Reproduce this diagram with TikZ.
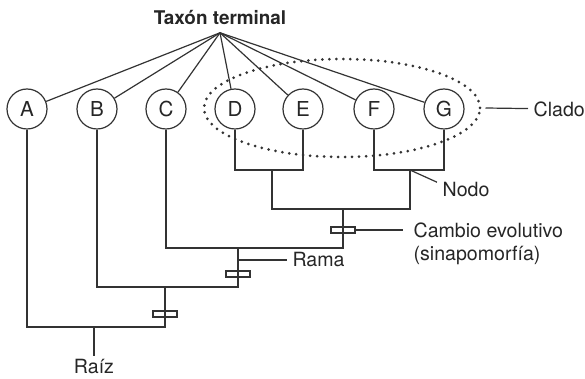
\documentclass[tikz,border=0pt]{standalone}
\usepackage{fontspec}
\setmainfont{TeX Gyre Heros}
\usetikzlibrary{shapes.geometric}
\tikzset{
  taxon/.style={circle, draw, minimum size=20pt, inner sep=0pt},
  etiqueta/.style={inner sep=2.5pt, align=left},
  marca/.style={draw, minimum width=12pt, minimum height=3pt, inner sep=0pt},
  punteado/.style={ellipse, draw, line width=1.5pt, line cap=round,
    dash pattern=on 0pt off 3.5pt, minimum width=138pt, minimum height=49pt}
}
\begin{document}
\begin{tikzpicture}[x=0.5pt,y=-0.5pt, line width=0.6pt, draw=black!80,
    font=\fontsize{9.8}{11.6}\selectfont, text=black!85]
    \useasboundingbox (0,0) rectangle (585,379);
    % terminales
    \foreach \n/\x in {A/27,B/97,C/166,D/235,E/303,F/374,G/444}
      \node[taxon, font=\fontsize{10.3}{12}\selectfont] (\n) at (\x,109) {\n};
    \node[punteado] (elipse) at (342,108) {};
    \node[anchor=base, inner sep=3.5pt] (taxon) at (220,25)
      {\fontsize{9.45}{11}\selectfont\bfseries Taxón terminal};
    \foreach \n in {A,B,C,D,E,F,G}
      \draw (taxon.south) -- (\n);
    % nodos internos
    \coordinate (nDE) at (272,170);
    \coordinate (nFG) at (410,170);
    \coordinate (nDG) at (343,209);
    \coordinate (nCG) at (238,248);
    \coordinate (nBG) at (165,287);
    \coordinate (nAG) at (94,327);
    \draw (D) |- (nDE) -| (E);
    \draw (F) |- (nFG) -| (G);
    \draw (nDE) |- (nDG) -| (nFG);
    \draw (C) |- (nCG) -| (nDG);
    \draw (B) |- (nBG) -| (nCG);
    \draw (A) |- (nAG) -| (nBG);
    \node[anchor=north, inner sep=1.5pt] (raiz) at (94,356) {Raíz};
    \draw (nAG) -- (raiz);
    % cambios evolutivos
    \node[marca] (m1) at (343,230) {};
    \node[marca] (m2) at (238,274) {};
    \node[marca] (m3) at (165,314) {};
    % etiquetas
    \node[etiqueta, inner xsep=5pt, anchor=north west] (cambio) at (403,217)
      {Cambio evolutivo\\(sinapomorfía)};
    \draw (m1.east) -- (m1 -| cambio.west);
    \coordinate (pRama) at (238,260);
    \node[etiqueta, anchor=west] (rama) at (287,260) {Rama};
    \draw (pRama) -- (rama);
    \node[etiqueta, anchor=west] (nodo) at (437,190) {Nodo};
    \draw (nFG) -- (nodo.165);
    \node[etiqueta, anchor=west] (clado) at (528,109) {Clado};
    \draw ([xshift=2pt]elipse.east) -- (clado);
\end{tikzpicture}
\end{document}
